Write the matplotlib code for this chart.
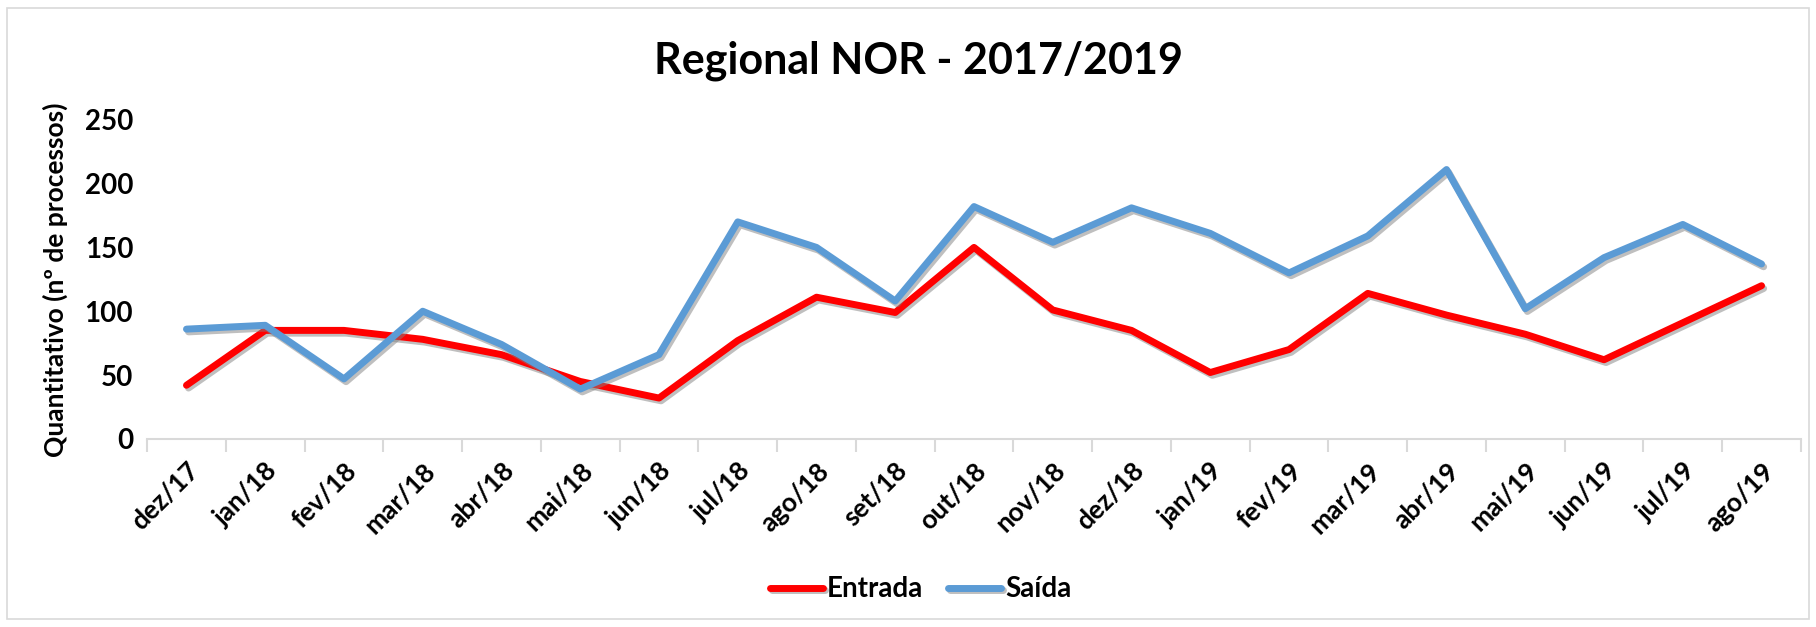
import matplotlib
matplotlib.use('Agg')
import matplotlib.pyplot as plt
import matplotlib.patheffects as pe
from matplotlib.patches import Rectangle
import numpy as np

plt.rcParams['font.family'] = ['Lato', 'DejaVu Sans']

# dados
meses = ['dez/17', 'jan/18', 'fev/18', 'mar/18', 'abr/18', 'mai/18', 'jun/18',
         'jul/18', 'ago/18', 'set/18', 'out/18', 'nov/18', 'dez/18', 'jan/19',
         'fev/19', 'mar/19', 'abr/19', 'mai/19', 'jun/19', 'jul/19', 'ago/19']
entrada = [42, 85, 85, 78, 66, 45, 32, 77, 111, 99, 150, 101, 85, 52,
           70, 114, 97, 82, 62, 91, 120]
saida = [86, 89, 47, 100, 74, 39, 66, 170, 150, 108, 182, 154, 181, 161,
         130, 159, 211, 102, 142, 168, 137]
yticks = [0, 50, 100, 150, 200, 250]

fig = plt.figure(figsize=(18.16, 6.27), dpi=100)
ax = fig.add_axes([0.081, 0.30, 0.9107, 0.509])

x = np.arange(len(meses))
sombra = [pe.SimpleLineShadow(offset=(1.5, -2), shadow_color='gray', alpha=0.5), pe.Normal()]
ax.plot(x, entrada, color='#FF0000', lw=5, solid_capstyle='round',
        label='Entrada', path_effects=sombra)
ax.plot(x, saida, color='#5B9BD5', lw=5, solid_capstyle='round',
        label='Saída', path_effects=sombra)

ax.set_xlim(-0.5, len(meses) - 0.5)
ax.set_ylim(0, 250)
ax.set_yticks(yticks)
ax.set_yticklabels([str(v) for v in yticks], fontsize=20, fontweight='bold')
ax.set_xticks(x)
ax.set_xticklabels(meses, rotation=45, ha='right', rotation_mode='anchor',
                   fontsize=19, fontweight='bold')
ax.set_xticks(np.arange(-0.5, len(meses)), minor=True)
ax.tick_params(axis='x', which='major', length=0, pad=14)
ax.tick_params(axis='x', which='minor', length=9, color='#D9D9D9', width=1.5)
ax.tick_params(axis='y', length=0, pad=10)

for s in ['top', 'right', 'left']:
    ax.spines[s].set_visible(False)
ax.spines['bottom'].set_color('#D9D9D9')
ax.spines['bottom'].set_linewidth(1.5)

ax.set_ylabel('Quantitativo (nº de processos)', fontsize=19, fontweight='bold', labelpad=12)
fig.text(0.506, 0.903, 'Regional NOR - 2017/2019', ha='center', va='center',
         fontsize=31, fontweight='bold')

fig.legend(loc='center', bbox_to_anchor=(0.507, 0.06), ncol=2, frameon=False,
           prop={'size': 20, 'weight': 'bold'}, handlelength=1.9, columnspacing=0.9,
           handletextpad=0.15)

fig.patches.append(Rectangle((0.004, 0.012), 0.992, 0.975, transform=fig.transFigure,
                             fill=False, edgecolor='#D9D9D9', lw=1.2))

fig.savefig('out.png', dpi=100)
